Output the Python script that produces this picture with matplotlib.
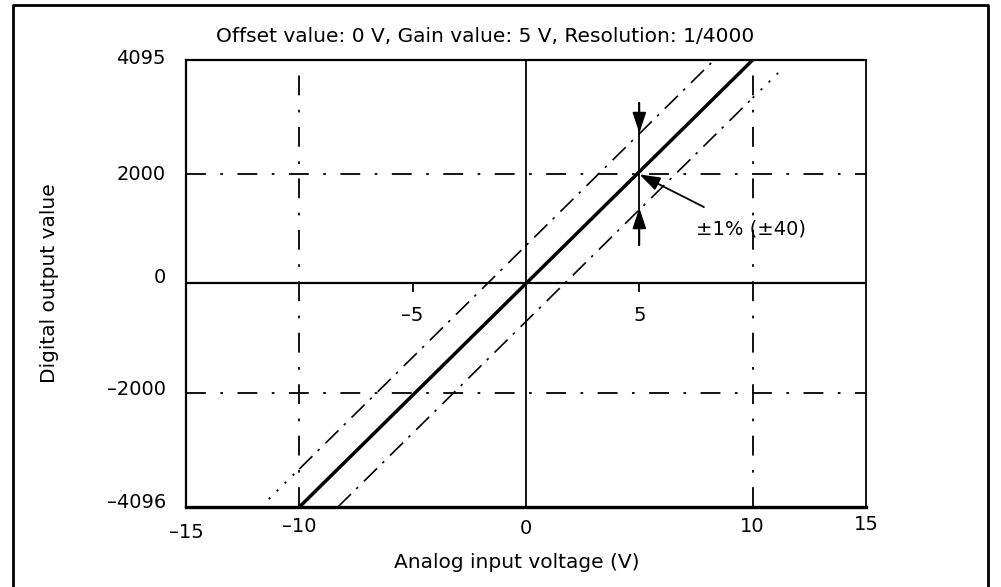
import matplotlib.pyplot as plt
import matplotlib as mpl
from matplotlib.lines import Line2D
import matplotlib.transforms as mtransforms

mpl.rcParams['font.family'] = ['DejaVu Sans']
mpl.rcParams['font.size'] = 14

# values
ideal_v = [-10, 10]
ideal_d = [-4096, 4095]
upper_v = [-10, 8.3]
upper_d = [-3400, 4095]
upper_ext_v = [-11.35, -10]
upper_ext_d = [-3950, -3400]
lower_v = [-8.3, 10]
lower_d = [-4096, 3400]
lower_ext_v = [10, 11.35]
lower_ext_d = [3400, 3950]

grid_v = [-10, 10]
grid_d = [-2000, 2000]
x_labels = [-15, -10, 0, 10, 15]
x_label_drop = [25, 19, 21, 20, 18]   # px below axis bottom (label centre)
x_inner = [-5, 5]
y_labels = [4095, 2000, 0, -2000, -4096]
y_label_lift = [2, 0, 6, 3, 4]

mark_v = 5
mark_top = 3307
mark_tip_hi = 2757
mark_tip_lo = 1383
mark_bot = 705
point_v, point_d = 5, 2000
note_v, note_d = 7.85, 1400

W, H = 1001, 587
fig = plt.figure(figsize=(W / 100, H / 100), dpi=100)
ax = fig.add_axes([186 / W, 1 - 507 / H, 680 / W, 447 / H])
ax.set_xlim(-15, 15)
ax.set_ylim(-4096, 4095)
ax.set_xticks([])
ax.set_yticks([])
for side, lw in [('left', 1.6), ('bottom', 2.4), ('top', 1.6), ('right', 1.3)]:
    ax.spines[side].set_linewidth(lw)

gridstyle = (0, (11, 8, 1.5, 8))
bandstyle = (0, (11, 4.5, 1.5, 5))

for v in grid_v:
    ax.axvline(v, color='k', lw=1.3, ls=gridstyle)
for d in grid_d:
    ax.axhline(d, color='k', lw=1.3, ls=gridstyle)
ax.axhline(0, color='k', lw=1.6)
ax.axvline(0, color='k', lw=1.3)

ax.plot(ideal_v, ideal_d, color='k', lw=2.5, solid_capstyle='butt')
ax.plot(upper_v, upper_d, color='k', lw=1.2, ls=bandstyle)
ax.plot(lower_v, lower_d, color='k', lw=1.2, ls=bandstyle)
ax.plot(upper_ext_v, upper_ext_d, color='k', lw=1.3, ls=(0, (1.2, 5)))
ax.plot(lower_ext_v, lower_ext_d, color='k', lw=1.3, ls=(0, (1.2, 5)))

# tolerance marker at 5 V
arrow = dict(arrowstyle='-|>,head_length=0.9,head_width=0.3',
             color='k', lw=1.3, shrinkA=0, shrinkB=0)
ax.plot([mark_v, mark_v], [mark_top, mark_bot], color='k', lw=1.3)
ax.annotate('', xy=(mark_v, mark_tip_hi), xytext=(mark_v, mark_top), arrowprops=arrow)
ax.annotate('', xy=(mark_v, mark_tip_lo), xytext=(mark_v, mark_bot), arrowprops=arrow)
ax.annotate('', xy=(point_v, point_d), xytext=(note_v, note_d), arrowprops=arrow)
ax.text(7.5, 1000, '±1% (±40)', ha='left', va='center', fontsize=14)

# inner ticks on the zero line
for v in x_inner:
    ax.plot([v, v], [0, -140], color='k', lw=1.3)
    ax.text(v, -590, '\u2013' + str(abs(v)) if v < 0 else str(v),
            ha='center', va='center', fontsize=14)

bx = mtransforms.blended_transform_factory(ax.transData, ax.transAxes)
by = mtransforms.blended_transform_factory(ax.transAxes, ax.transData)
for v, drop in zip(x_labels, x_label_drop):
    lab = '\u2013' + str(abs(v)) if v < 0 else str(v)
    off = mtransforms.offset_copy(bx, fig=fig, x=0, y=-drop * 0.72, units='points')
    ax.text(v, 0, lab, transform=off, ha='center', va='center', fontsize=14)
for d, lift in zip(y_labels, y_label_lift):
    lab = '\u2013' + str(abs(d)) if d < 0 else str(d)
    off = mtransforms.offset_copy(by, fig=fig, x=-20 * 0.72, y=lift * 0.72, units='points')
    ax.text(0, d, lab, transform=off, ha='right', va='center', fontsize=14)

fig.text(485 / W, 1 - 37 / H, 'Offset value: 0 V, Gain value: 5 V, Resolution: 1/4000',
         ha='center', va='center', fontsize=14.5)
fig.text(517 / W, 1 - 563 / H, 'Analog input voltage (V)', ha='center', va='center',
         fontsize=14.5)
fig.text(50 / W, 1 - 283 / H, 'Digital output value', ha='center', va='center',
         rotation=90, fontsize=14.5)

# outer frame
fx = [13 / W, 13 / W, 988 / W, 988 / W]
fy = [0, 1 - 5 / H, 1 - 5 / H, 0]
fig.add_artist(Line2D(fx, fy, color='k', lw=2.0, transform=fig.transFigure))

fig.savefig('out.png', dpi=100)
